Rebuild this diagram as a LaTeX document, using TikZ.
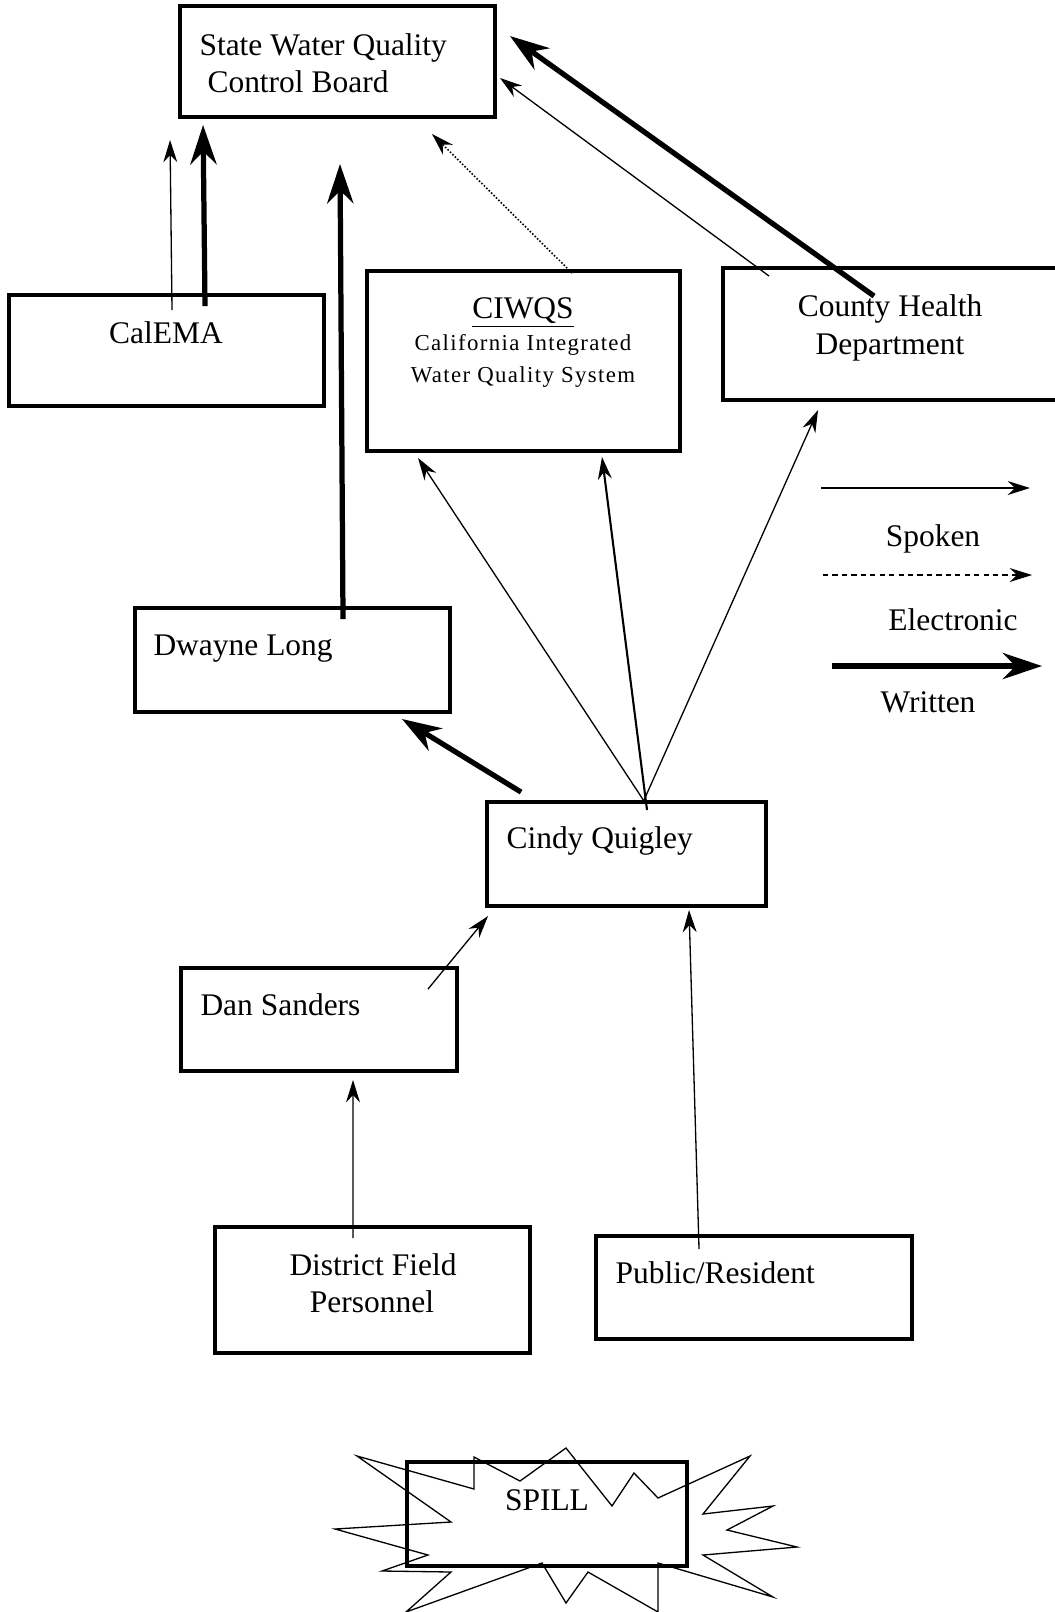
\documentclass[tikz,border=0pt]{standalone}
\usepackage{fontspec}
\setmainfont{Liberation Serif}
\newfontfamily\spacedfont[LetterSpace=6]{Liberation Serif}
\usetikzlibrary{positioning,calc,fit,arrows.meta}

\begin{document}
\begin{tikzpicture}[scale=0.134,
  box/.style={draw, line width=1.5pt, inner sep=0pt},
  txt/.style={inner sep=0pt, font=\fontsize{12}{14}\selectfont},
  small/.style={inner sep=0pt, font=\fontsize{8.7}{10}\spacedfont},
  spoken/.style={line width=0.5pt, -{Stealth[length=8.5pt,width=5.3pt]}},
  electronic/.style={line width=0.6pt, dash pattern=on 0.6pt off 0.7pt, -{Stealth[length=8.5pt,width=5.3pt]}},
  written/.style={line width=2pt, -{Stealth[length=15pt,width=10pt]}}]
\useasboundingbox (0,0) rectangle (105.5,-161.2);

% boxes
\node[box, fit={(18.0,-0.6) (49.5,-11.7)}] (swqcb) {};
\node[box, fit={(0.9,-29.5) (32.4,-40.6)}] (calema) {};
\node[box, fit={(36.7,-27.1) (68.0,-45.1)}] (ciwqs) {};
\node[box, fit={(72.3,-26.8) (106.5,-40.0)}] (county) {};
\node[box, fit={(13.5,-60.8) (45.0,-71.2)}] (dwayne) {};
\node[box, fit={(48.7,-80.2) (76.6,-90.6)}] (cindy) {};
\node[box, fit={(18.1,-96.8) (45.7,-107.1)}] (dan) {};
\node[box, fit={(21.5,-122.7) (53.0,-135.3)}] (district) {};
\node[box, fit={(59.6,-123.6) (91.2,-133.9)}] (public) {};

% spill
\draw [line width=0.5pt] (35.7,-145.6) -- (47.4,-148.9) -- (47.4,-145.7) -- (52.0,-148.1)
  -- (56.6,-144.8) -- (61.2,-150.6) -- (63.4,-147.3) -- (65.8,-149.8) -- (75.0,-145.6)
  -- (70.3,-151.4) -- (77.3,-150.6) -- (72.7,-153.0) -- (79.7,-154.7) -- (70.3,-155.5)
  -- (77.3,-159.7) -- (65.8,-156.3) -- (65.8,-161.2) -- (58.8,-157.2) -- (56.6,-160.3)
  -- (54.2,-156.3) -- (40.6,-161.2) -- (45.1,-157.2) -- (38.2,-157.1) -- (42.8,-155.5)
  -- (33.5,-152.9) -- (45.1,-152.2) -- cycle;
\node[box, fit={(40.7,-146.2) (68.7,-156.6)}] (spill) {};

% labels
\node[txt, anchor=base west] (swqcb1) at (19.9,-5.5) {State Water Quality};
\node[txt, anchor=base west] (swqcb2) at (20.7,-9.2) {Control Board};
\node[txt, anchor=base] (calematxt) at (16.6,-34.3) {CalEMA};
\node[txt, anchor=base] (ciwqs1) at (52.3,-31.8) {\underline{CIWQS}};
\node[small, anchor=base] (ciwqs2) at (52.3,-35.0) {California Integrated};
\node[small, anchor=base] (ciwqs3) at (52.3,-38.2) {Water Quality System};
\node[txt, anchor=base] (county1) at (89.0,-31.6) {County Health};
\node[txt, anchor=base] (county2) at (89.0,-35.4) {Department};
\node[txt, anchor=base west] (dwaynetxt) at (15.3,-65.5) {Dwayne Long};
\node[txt, anchor=base west] (cindytxt) at (50.6,-84.8) {Cindy Quigley};
\node[txt, anchor=base west] (dantxt) at (20.0,-101.5) {Dan Sanders};
\node[txt, anchor=base] (district1) at (37.3,-127.5) {District Field};
\node[txt, anchor=base] (district2) at (37.2,-131.2) {Personnel};
\node[txt, anchor=base west] (publictxt) at (61.5,-128.3) {Public/Resident};
\node[txt, anchor=base] (spilltxt) at (54.7,-151.0) {SPILL};

% legend
\coordinate (spokenA) at (82.1,-48.8);
\coordinate (spokenB) at (103.0,-48.8);
\coordinate (electronicA) at (82.3,-57.5);
\coordinate (electronicB) at (103.2,-57.5);
\coordinate (writtenA) at (83.2,-66.6);
\coordinate (writtenB) at (104.2,-66.6);
\draw[spoken] (spokenA) -- (spokenB);
\draw[spoken, dashed, dash pattern=on 2pt off 1.6pt] (electronicA) -- (electronicB);
\draw[written] (writtenA) -- (writtenB);
\node[txt, anchor=base] (spokentxt) at (93.3,-54.6) {Spoken};
\node[txt, anchor=base] (electronictxt) at (95.3,-63.0) {Electronic};
\node[txt, anchor=base] (writtentxt) at (92.8,-71.2) {Written};

% connectors
\draw[spoken] ($(calema.north)+(0.55,-1.7)$) -- ($(swqcb.south west)+(-0.8,-2.1)$);
\draw[written] ($(calema.north)+(3.85,-1.3)$) -- ($(swqcb.south west)+(2.5,-0.6)$);
\draw[written] ($(dwayne.north)+(5.05,-1.3)$) -- ($(swqcb.south)+(0.25,-4.5)$);
\draw[electronic] ($(ciwqs.north)+(4.85,-0.4)$) -- ($(swqcb.south)+(9.45,-1.5)$);
\draw[spoken] ($(county.north west)+(4.8,-1.0)$) -- ($(swqcb.east)+(0.3,-1.65)$);
\draw[written] ($(county.north)+(-2.0,-3.0)$) -- ($(swqcb.north east)+(1.3,-3.2)$);
\draw[written] ($(cindy.north west)+(3.6,0.8)$) -- ($(dwayne.south east)+(-5.0,-0.5)$);
\draw[spoken] ($(cindy.north)+(1.75,-0.1)$) -- ($(ciwqs.south west)+(5.3,-0.5)$);
\draw[spoken, line width=0.8pt] ($(cindy.north)+(2.05,-1.0)$) -- ($(ciwqs.south)+(7.85,-0.4)$);
\draw[spoken] ($(cindy.north)+(1.75,0)$) -- ($(county.south)+(-7.6,-0.8)$);
\draw[spoken] ($(dan.north east)+(-3.1,-2.3)$) -- ($(cindy.south west)+(0.3,-0.8)$);
\draw[spoken] ($(district.north)+(-1.95,-1.3)$) -- ($(dan.south)+(3.4,-0.7)$);
\draw[spoken] ($(public.north)+(-5.5,-1.5)$) -- ($(cindy.south)+(6.25,-0.2)$);
\end{tikzpicture}
\end{document}
